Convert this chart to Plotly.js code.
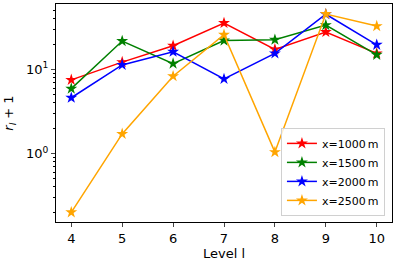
<!DOCTYPE html>
<html><head><meta charset="utf-8">
<script src="https://cdn.plot.ly/plotly-3.0.1.min.js"></script>
<style>html,body{margin:0;padding:0;background:#fff}#c{width:397px;height:264px}</style>
</head><body><div id="c"></div>
<script>
const levels = [4, 5, 6, 7, 8, 9, 10];
const r1000 = [7.5, 12.2, 19.1, 35.6, 17.3, 27.8, 15.5];
const r1500 = [5.9, 21.7, 11.7, 22.0, 22.5, 33.6, 14.9];
const r2000 = [4.6, 11.3, 16.2, 7.7, 15.5, 45.2, 19.6];
const r2500 = [0.2, 1.71, 8.3, 25.8, 1.04, 45.5, 32.7];
const seriesNames = ['x=1000\u2009m', 'x=1500\u2009m', 'x=2000\u2009m', 'x=2500\u2009m'];
const colors = ['red', 'green', 'blue', 'orange'];
const yTickVals = [1, 10];
const yTickText = ['10<sup>0</sup>', '10<sup>1</sup>'];
const yMinorVals = [0.2,0.3,0.4,0.5,0.6,0.7,0.8,0.9,2,3,4,5,6,7,8,9,20,30,40,50];

const data = [r1000, r1500, r2000, r2500].map((ys, i) => ({
  x: levels, y: ys, type: 'scatter', mode: 'lines+markers', name: seriesNames[i],
  line: {color: colors[i], width: 1.5},
  marker: {symbol: 'star', size: 9, color: colors[i]}
}));

const font = {family: 'DejaVu Sans', size: 13, color: '#000'};
const layout = {
  width: 397, height: 264,
  margin: {l: 56, r: 5, t: 4, b: 42},
  paper_bgcolor: '#fff', plot_bgcolor: '#fff',
  font: font,
  showlegend: true,
  legend: {x: 0.979, y: 0.028, xanchor: 'right', yanchor: 'bottom',
    bordercolor: '#d0d0d0', borderwidth: 1, bgcolor: 'rgba(255,255,255,0.8)',
    font: {family: 'DejaVu Sans', size: 11, color: '#000'}, tracegroupgap: 0, itemwidth: 30},
  xaxis: {range: [3.7, 10.3], tickvals: levels, ticks: 'outside', ticklen: 4,
    showgrid: false, zeroline: false, showline: true, mirror: true, linecolor: '#000', linewidth: 1,
    title: {text: 'Level l', font: font, standoff: 4}},
  yaxis: {type: 'log', range: [-0.814, 1.777], tickvals: yTickVals, ticktext: yTickText,
    ticks: 'outside', ticklen: 4, showgrid: false, zeroline: false,
    showline: true, mirror: true, linecolor: '#000', linewidth: 1,
    minor: {tickvals: yMinorVals, ticks: 'outside', ticklen: 2, showgrid: false, tickcolor: '#000'},
    title: {text: '<i>r<sub>l</sub></i> + 1', font: font, standoff: 9}}
};
Plotly.newPlot('c', data, layout, {displayModeBar: false, staticPlot: true});
</script></body></html>
